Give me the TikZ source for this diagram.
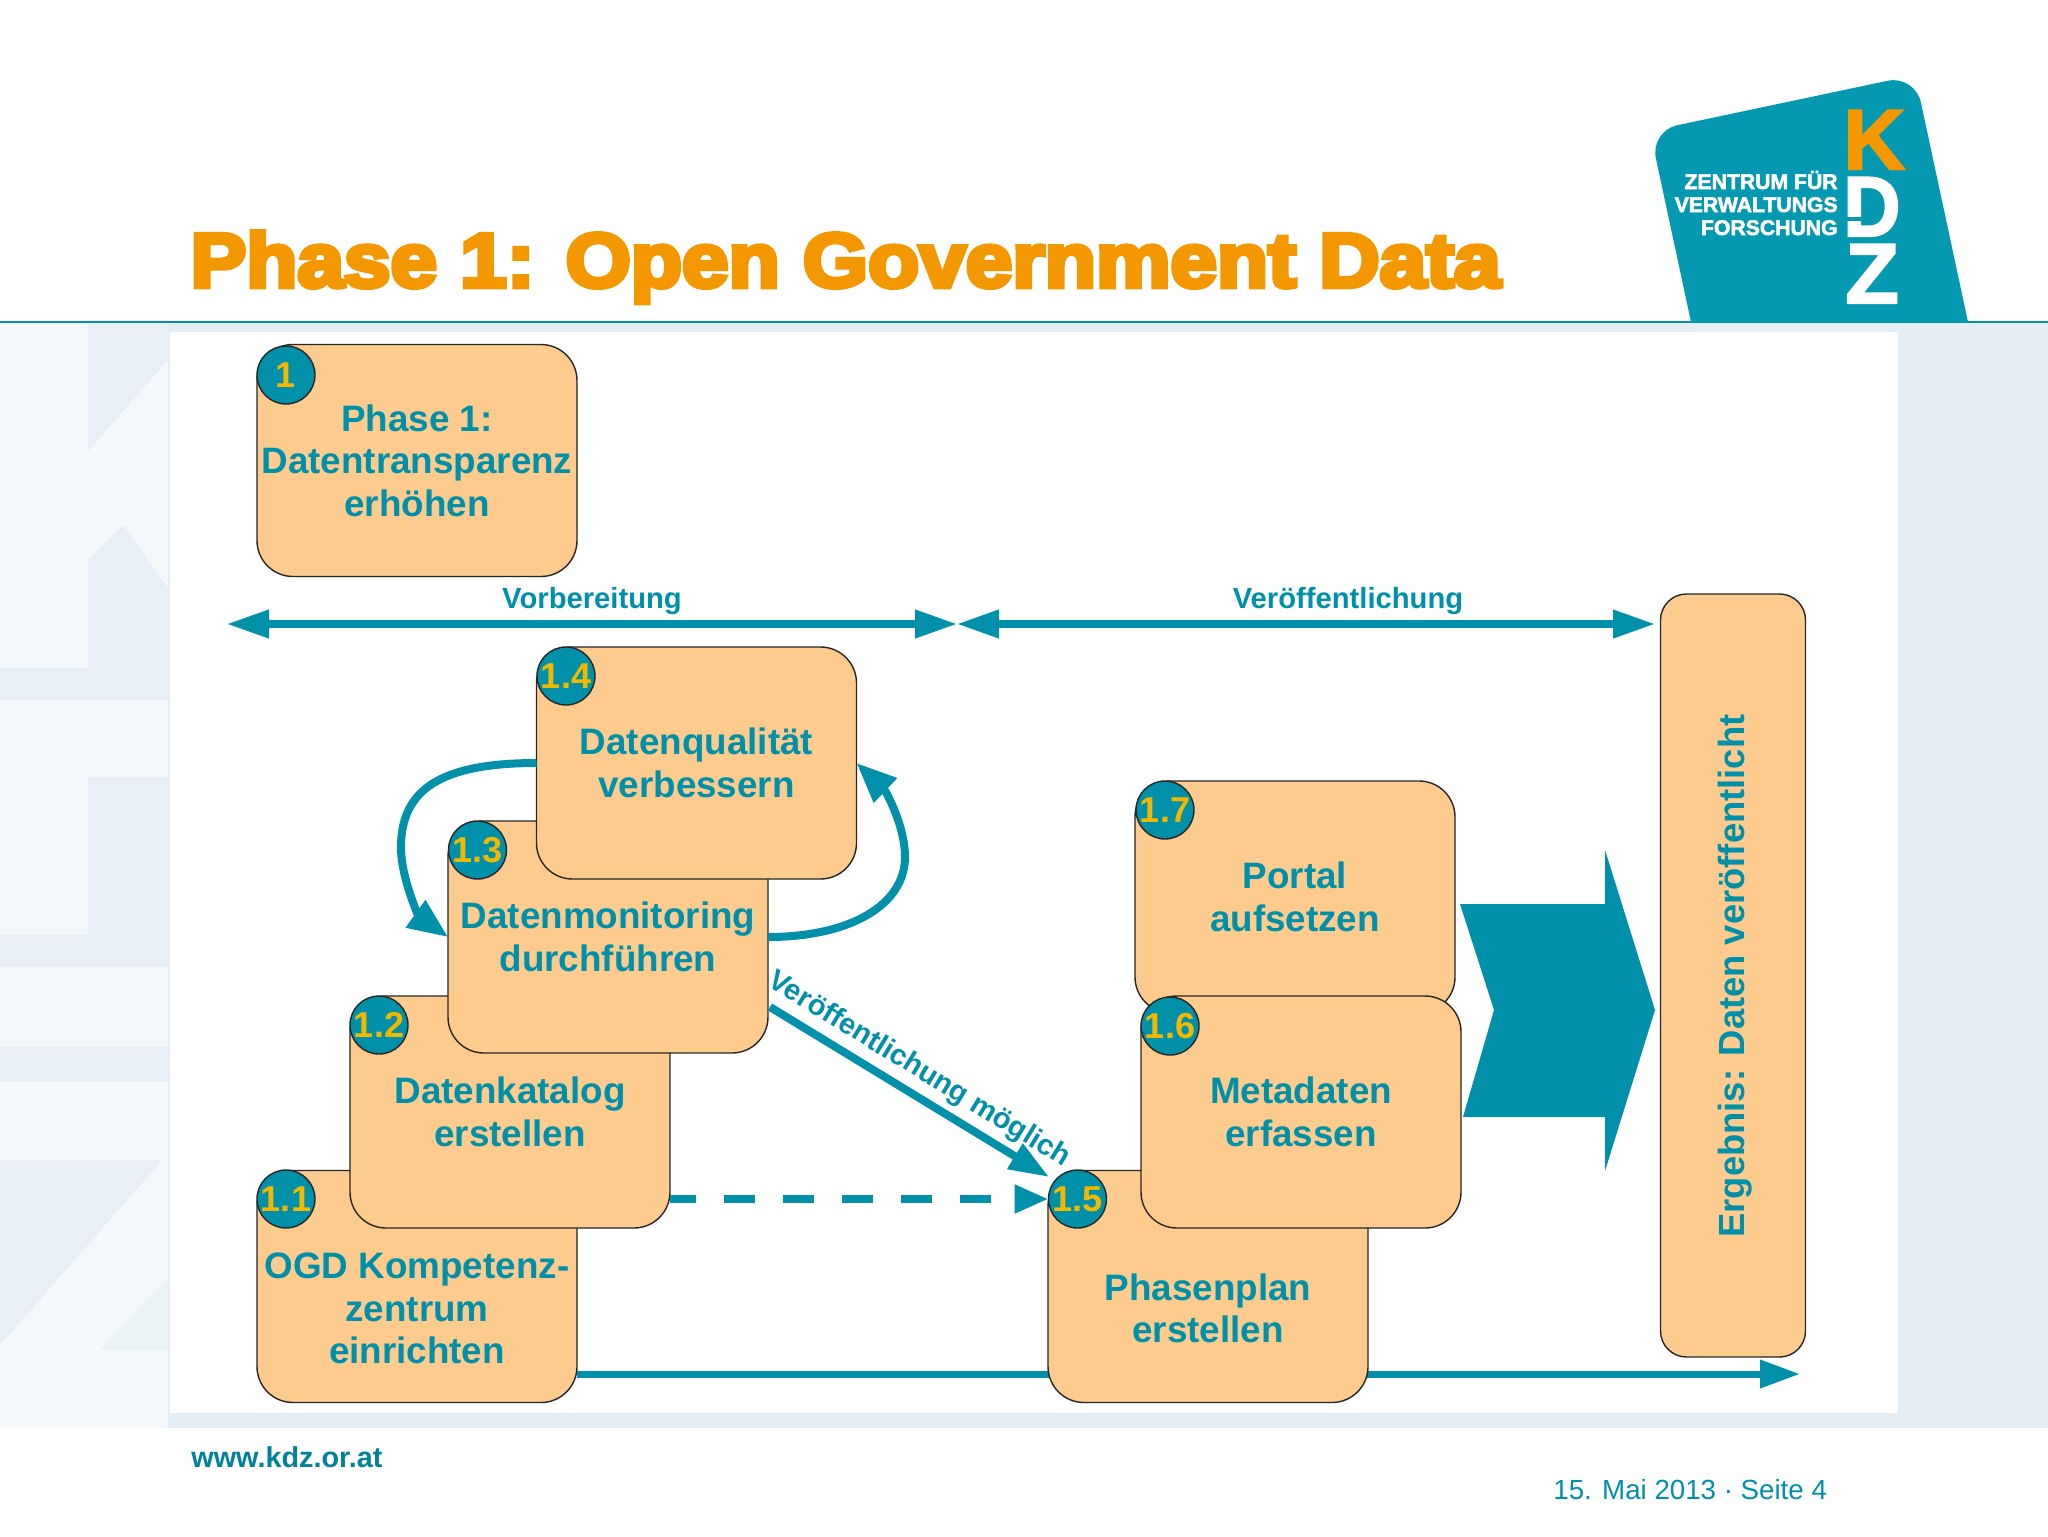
\documentclass[tikz,border=0pt]{standalone}
\usepackage{fontspec}
\setmainfont{Liberation Sans}
\newfontfamily\heavyfont[FakeBold=6]{Liberation Sans Bold}
\newfontfamily\logofont[FakeBold=2.5]{Liberation Sans Bold}
\usetikzlibrary{arrows.meta}
\definecolor{teal1}{HTML}{0090A9}
\definecolor{logoteal}{HTML}{0499B0}
\definecolor{orangeT}{HTML}{F39800}
\definecolor{peach}{HTML}{FDCB8D}
\definecolor{gold}{HTML}{F2B800}
\definecolor{wmlight}{HTML}{F4F8FB}
\definecolor{wmdark}{HTML}{E8EFF6}
\definecolor{wmgreen}{HTML}{EBF3F4}
\definecolor{bandblue}{HTML}{E5EDF5}
\tikzset{
  stepbox/.style={draw=black!85,line width=0.7pt,fill=peach,rounded corners=18pt,minimum width=160pt,minimum height=116pt,inner sep=0pt,outer sep=0pt,text=teal1,align=center,font=\fontsize{18.4}{21.25}\selectfont\bfseries},
  boxtext/.style={inner sep=0pt,text=teal1,align=center,font=\fontsize{18.4}{21.25}\selectfont\bfseries},
  numdot/.style={circle,draw=black!85,line width=0.7pt,fill=teal1,minimum size=29pt,inner sep=0pt,outer sep=0pt,text=gold,font=\fontsize{18}{20}\selectfont\bfseries},
  thinlabel/.style={inner sep=0pt,text=teal1,font=\fontsize{14.6}{17}\selectfont\bfseries},
  flow/.style={draw=teal1,line width=4pt},
  bighead/.style={-{Triangle[length=20pt,width=14pt]}},
  logoletter/.style={inner sep=0pt,anchor=base west,font=\fontsize{42.5}{50}\logofont},
  logoline/.style={inner sep=0pt,anchor=base east,text=white,font=\fontsize{10.6}{13}\logofont}
}
\begin{document}
\begin{tikzpicture}[x=0.5pt,y=-0.5pt]
\useasboundingbox (0,0) rectangle (2048,1536);
% background
\fill[white] (0,0) rectangle (2048,1536);
\fill[bandblue] (0,322) rectangle (2048,1428);
\fill[wmdark] (0,322) rectangle (168,1428);
\fill[wmlight] (0,322) rectangle (168,668);
\fill[wmdark] (88,322) -- (168,322) -- (168,360) -- (88,451) -- cycle;
\fill[wmdark] (88,560) -- (123,525) -- (168,588) -- (168,700) -- (88,700) -- cycle;
\fill[wmdark] (0,668) rectangle (168,700);
\fill[wmlight] (0,700) rectangle (168,777);
\fill[wmlight] (0,777) rectangle (88,935);
\fill[wmlight] (0,967) rectangle (168,1047);
\fill[wmlight] (0,1082) rectangle (168,1160);
\fill[wmlight] (0,1160) -- (0,1345) -- (162,1160) -- (168,1160) -- (168,1428) -- (0,1428) -- cycle;
\fill[wmdark] (0,1160) -- (162,1160) -- (0,1345) -- cycle;
\fill[wmgreen] (100,1350) -- (168,1279) -- (168,1350) -- cycle;
\fill[bandblue] (168,1413) rectangle (2048,1428);
\fill[white] (170,332) rectangle (1898,1413);
\draw[teal1,line width=0.8pt] (0,322) -- (2048,322);
% logo
\fill[logoteal] (1691,322) [rounded corners=14pt] -- (1650,131) -- (1915,75) [sharp corners] -- (1968,322) -- cycle;
\node[logoletter,text=orangeT,xscale=1.0] (logoK) at (1843,169) {K};
\node[logoletter,text=white,xscale=0.93] (logoD) at (1843,236) {D};
\fill[logoteal] (1845,217) rectangle (1868,221);
\node[logoletter,text=white,xscale=1.03] (logoZ) at (1845,303) {Z};
\node[logoline] (logo1) at (1838,189) {ZENTRUM FÜR};
\node[logoline] (logo2) at (1838,212) {VERWALTUNGS};
\node[logoline] (logo3) at (1838,235) {FORSCHUNG};
% title
\node[inner sep=0pt,anchor=base west,text=orangeT,xscale=1.09,font=\fontsize{38.4}{44}\heavyfont] (title) at (190,287) {Phase 1: Open Government Data};
% footer
\node[inner sep=0pt,anchor=base west,text=teal1!90!black,font=\fontsize{14.4}{17}\selectfont\bfseries] (web) at (191,1467) {www.kdz.or.at};
\node[inner sep=0pt,anchor=base west,text=teal1,font=\fontsize{13.85}{17}\selectfont] (date) at (1553,1499) {15. Mai 2013 · Seite 4};
% top arrows
\coordinate (v1) at (227,624);
\coordinate (v2) at (957,624);
\coordinate (v3) at (1655,624);
\draw[draw=teal1,line width=3.6pt,{Triangle[length=21pt,width=13.5pt]}-{Triangle[length=21pt,width=13.5pt]}] (v1) -- (v2);
\draw[draw=teal1,line width=3.6pt,{Triangle[length=21pt,width=13.5pt]}-{Triangle[length=21pt,width=13.5pt]}] (v2) -- (v3);
\node[thinlabel,anchor=base] (lvor) at (592,608) {Vorbereitung};
\node[thinlabel,anchor=base] (lver) at (1348,608) {Veröffentlichung};
% box 1
\node[stepbox] (b1) at (417,460.5) {Phase 1:\\Datentransparenz\\erhöhen};
\node[numdot] (c1) at (286,375) {1};
% result
\node[stepbox,rounded corners=13pt,minimum width=72.5pt,minimum height=381.5pt] (res) at (1733,975.5) {};
\node[boxtext,rotate=90,font=\fontsize{18.2}{22}\selectfont\bfseries] (restext) at (1735,976) {Ergebnis: Daten veröffentlicht};
% bottom arrow
\coordinate (e1) at (1800,1374);
\node[stepbox] (b11) at (417,1286.5) {};
\draw[draw=teal1,line width=3.5pt,-{Triangle[length=20pt,width=13.5pt]}] (b11.east |- e1) -- (e1);
\node[boxtext,yshift=-11pt] (t11) at (b11.center) {OGD Kompetenz-\\zentrum\\einrichten};
% left stack
\node[stepbox] (b12) at (510,1112) {Datenkatalog\\erstellen};
\node[stepbox] (b13) at (608,937) {Datenmonitoring\\durchführen};
\node[stepbox] (b14) at (696.5,763) {Datenqualität\\verbessern};
\node[numdot] (c11) at (286,1199) {1.1};
\node[numdot] (c12) at (379,1025) {1.2};
\node[numdot] (c13) at (477.5,850) {1.3};
\node[numdot] (c14) at (566,676) {1.4};
% right stack
\node[stepbox] (b15) at (1208,1286.5) {};
\node[boxtext,yshift=-11pt] (t15) at (b15.center) {Phasenplan\\erstellen};
\node[stepbox] (b17) at (1295,897) {Portal\\aufsetzen};
\node[stepbox] (b16) at (1301,1112) {Metadaten\\erfassen};
\node[numdot] (c15) at (1077.5,1199) {1.5};
\node[numdot] (c17) at (1165,810) {1.7};
\node[numdot] (c16) at (1170,1026) {1.6};
% loops
\draw[flow,-{Triangle[length=20pt,width=16pt]}] (b14.west) .. controls (440,763) and (401,790) .. (401,847) .. controls (401,880) and (420,917) .. (b13.west);
\draw[flow,-{Triangle[length=20pt,width=16pt]}] (b13.east) .. controls (850,937) and (905,905) .. (905,857) .. controls (905,825) and (885,790) .. (b14.east);
% diagonal
\coordinate (d1) at (770,1007);
\coordinate (d2) at (1049,1177);
\draw[flow,bighead] (d1) -- (d2);
\node[inner sep=0pt,text=teal1,rotate=-31.4,font=\fontsize{14.5}{17}\selectfont\bfseries] (ldiag) at (919,1070) {Veröffentlichung möglich};
% dashed
\draw[flow,dash pattern=on 15.5pt off 14pt,dash phase=2.5pt,-{Triangle[length=17pt,width=13.5pt]}] (c15.west -| b12.east) -- (c15.west);
% block arrow
\fill[teal1] (1460,904) -- (1605,904) -- (1605,850) -- (1655,1010) -- (1605,1171) -- (1605,1117) -- (1463,1117) -- (1494,1010) -- cycle;
\end{tikzpicture}
\end{document}
